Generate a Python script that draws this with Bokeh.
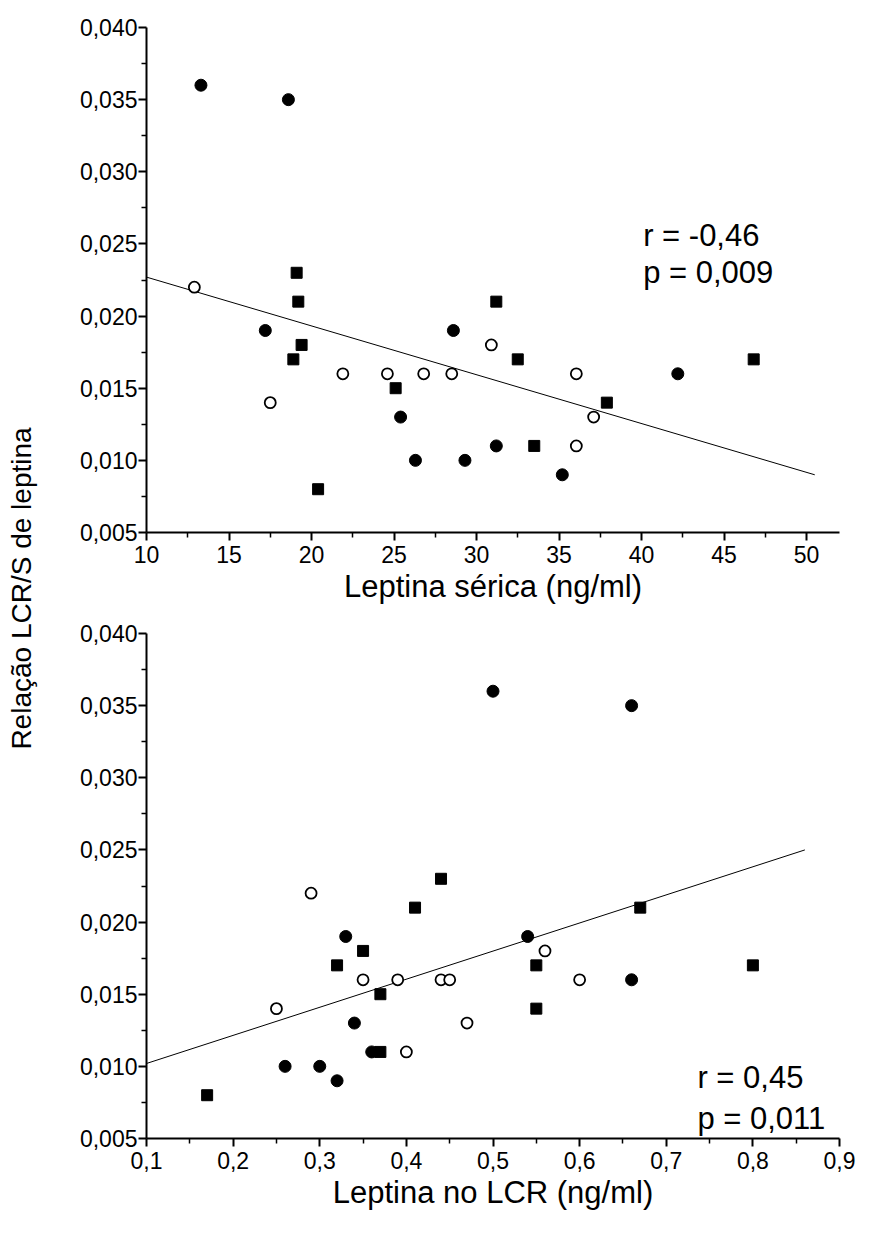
import math
from bokeh.plotting import figure
from bokeh.models import FixedTicker, CustomJSTickFormatter, Label, Range1d
from bokeh.layouts import row, column
from bokeh.embed import file_html
from bokeh.resources import INLINE

FONT = "Liberation Sans"

# ---------------- data ----------------
# group 1: filled circles
filled_ratio = [0.036, 0.035, 0.019, 0.019, 0.013, 0.010, 0.010, 0.011, 0.009, 0.016]
filled_serum = [13.3, 18.6, 17.2, 28.6, 25.4, 26.3, 29.3, 31.2, 35.2, 42.2]
filled_csf = [0.50, 0.66, 0.33, 0.54, 0.34, 0.26, 0.30, 0.36, 0.32, 0.66]

# group 2: filled squares
square_ratio = [0.023, 0.021, 0.018, 0.017, 0.015, 0.008, 0.021, 0.017, 0.011, 0.014, 0.017]
square_serum = [19.1, 19.2, 19.4, 18.9, 25.1, 20.4, 31.2, 32.5, 33.5, 37.9, 46.8]
square_csf = [0.44, 0.41, 0.35, 0.32, 0.37, 0.17, 0.67, 0.55, 0.37, 0.55, 0.80]

# group 3: open circles
open_ratio = [0.022, 0.014, 0.016, 0.016, 0.016, 0.016, 0.018, 0.016, 0.011, 0.013]
open_serum = [12.9, 17.5, 21.9, 24.6, 26.8, 28.5, 30.9, 36.05, 36.05, 37.1]
open_csf = [0.29, 0.25, 0.35, 0.39, 0.44, 0.45, 0.56, 0.60, 0.40, 0.47]

# regression lines (end points)
serum_fit_x = [10.0, 50.5]
serum_fit_y = [0.0227, 0.0090]
csf_fit_x = [0.10, 0.86]
csf_fit_y = [0.0102, 0.0250]

# ticks
y_ticks = [0.005, 0.010, 0.015, 0.020, 0.025, 0.030, 0.035, 0.040]
serum_ticks = [10, 15, 20, 25, 30, 35, 40, 45, 50]
csf_ticks = [0.1, 0.2, 0.3, 0.4, 0.5, 0.6, 0.7, 0.8, 0.9]

top_stats = ["r = -0,46", "p = 0,009"]
bottom_stats = ["r = 0,45", "p = 0,011"]

y_title = "Relação LCR/S de leptina"
serum_title = "Leptina sérica (ng/ml)"
csf_title = "Leptina no LCR (ng/ml)"

TICK_FS = "23px"
TITLE_FS = "31px"
YTITLE_FS = "28px"
STAT_FS = "31px"


def mids(t):
    return [(a + b) / 2 for a, b in zip(t[:-1], t[1:])]


def style_axes(p, xticks, xfmt_code, xtitle):
    p.grid.visible = False
    p.outline_line_color = None
    p.background_fill_color = "white"
    p.border_fill_color = "white"
    for ax in (p.xaxis[0], p.yaxis[0]):
        ax.axis_line_width = 2
        ax.axis_line_color = "black"
        ax.major_tick_line_width = 2
        ax.major_tick_line_color = "black"
        ax.minor_tick_line_width = 1.5
        ax.minor_tick_line_color = "black"
        ax.major_tick_in = 0
        ax.major_tick_out = 8
        ax.minor_tick_in = 0
        ax.minor_tick_out = 5
        ax.major_label_text_font = FONT
        ax.major_label_text_font_size = TICK_FS
        ax.major_label_text_color = "black"
        ax.axis_label_text_font = FONT
        ax.axis_label_text_font_size = TITLE_FS
        ax.axis_label_text_font_style = "normal"
        ax.axis_label_text_color = "black"
    p.xaxis[0].ticker = FixedTicker(ticks=xticks, minor_ticks=mids(xticks))
    p.xaxis[0].formatter = CustomJSTickFormatter(code=xfmt_code)
    p.xaxis[0].axis_label = xtitle
    p.xaxis[0].major_label_standoff = 5
    p.xaxis[0].axis_label_standoff = 3
    p.yaxis[0].ticker = FixedTicker(ticks=y_ticks, minor_ticks=mids(y_ticks))
    p.yaxis[0].formatter = CustomJSTickFormatter(
        code="return tick.toFixed(3).replace('.', ',');")
    p.yaxis[0].major_label_standoff = 1


def draw_points(p, fx, sx, ox):
    p.scatter(fx, filled_ratio, marker="circle", size=12,
              fill_color="black", line_color="black")
    p.scatter(sx, square_ratio, marker="square", size=11,
              fill_color="black", line_color="black")
    p.scatter(ox, open_ratio, marker="circle", size=11,
              fill_color="white", line_color="black", line_width=1.8)


# ---------------- top panel ----------------
top = figure(width=824, height=620, output_backend="svg", toolbar_location=None,
             x_range=Range1d(10, 52), y_range=Range1d(0.005, 0.040),
             min_border_left=101, min_border_right=27,
             min_border_top=27, min_border_bottom=88)
style_axes(top, serum_ticks, "return tick.toFixed(0);", serum_title)
top.line(serum_fit_x, serum_fit_y, line_color="black", line_width=1)
draw_points(top, filled_serum, square_serum, open_serum)
top.add_layout(Label(x=40.1, y=0.0256, text=top_stats[0], text_font=FONT,
                     text_font_size=STAT_FS, text_baseline="middle",
                     text_color="black"))
top.add_layout(Label(x=40.1, y=0.0230, text=top_stats[1], text_font=FONT,
                     text_font_size=STAT_FS, text_baseline="middle",
                     text_color="black"))

# ---------------- bottom panel ----------------
bot = figure(width=824, height=620, output_backend="svg", toolbar_location=None,
             x_range=Range1d(0.1, 0.9), y_range=Range1d(0.005, 0.040),
             min_border_left=101, min_border_right=30,
             min_border_top=13, min_border_bottom=102)
style_axes(bot, csf_ticks, "return tick.toFixed(1).replace('.', ',');", csf_title)
bot.line(csf_fit_x, csf_fit_y, line_color="black", line_width=1)
draw_points(bot, filled_csf, square_csf, open_csf)
bot.add_layout(Label(x=0.736, y=0.0092, text=bottom_stats[0], text_font=FONT,
                     text_font_size=STAT_FS, text_baseline="middle",
                     text_color="black"))
bot.add_layout(Label(x=0.736, y=0.0064, text=bottom_stats[1], text_font=FONT,
                     text_font_size=STAT_FS, text_baseline="middle",
                     text_color="black"))

# ---------------- shared y title ----------------
lab = figure(width=45, height=1240, output_backend="svg", toolbar_location=None,
             x_range=Range1d(0, 1), y_range=Range1d(0, 1),
             x_axis_type=None, y_axis_type=None, min_border=0)
lab.grid.visible = False
lab.outline_line_color = None
lab.add_layout(Label(x=0.47, y=1 - 588 / 1240, text=y_title, angle=math.pi / 2,
                     text_align="center", text_baseline="middle",
                     text_font=FONT, text_font_size=YTITLE_FS, text_color="black"))

layout = row(lab, column(top, bot))
open("out.html", "w").write(file_html(layout, INLINE))
